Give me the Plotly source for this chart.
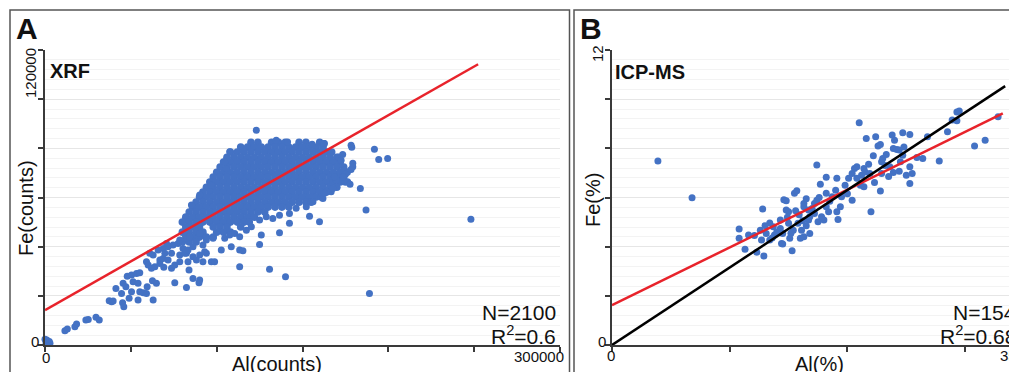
import plotly.graph_objects as go

# The page body adds an 8px margin, so the figure is 8px smaller than the window
OFF = 8
W, H = 1017 - OFF, 372 - OFF

# ---------------- Panel A : XRF (values in thousands of counts) ----------------
# dense core of the cloud, read row by row (Fe level, Al positions)
xrf_core_fe = [82.5, 80.5, 78.5, 76.4, 74.4, 72.4, 70.3, 68.3, 66.3, 64.2, 62.2,
               60.2, 58.1, 56.1, 54.1, 52.0, 50.0, 48.0, 45.9, 43.9, 41.9]
xrf_core_al = [
    [120, 124, 132, 136, 140, 148, 152, 160],
    [114, 118, 122, 126, 130, 134, 138, 142, 146, 150, 154, 158, 162],
    [108, 112, 116, 120, 124, 128, 132, 136, 140, 144, 148, 152, 156, 160, 164, 167],
    [106, 110, 114, 118, 122, 126, 130, 134, 138, 142, 146, 150, 154, 158, 162, 166, 170],
    [104, 108, 112, 116, 120, 124, 128, 132, 136, 140, 144, 148, 152, 156, 160, 164, 168, 172],
    [102, 106, 110, 114, 118, 122, 126, 130, 134, 138, 142, 146, 150, 154, 158, 162, 166, 170, 174],
    [100, 104, 108, 112, 116, 120, 124, 128, 132, 136, 140, 144, 148, 152, 156, 160, 164, 168, 172, 176],
    [98, 102, 106, 110, 114, 118, 122, 126, 130, 134, 138, 142, 146, 150, 154, 158, 162, 166, 170, 174],
    [96, 100, 104, 108, 112, 116, 120, 124, 128, 132, 136, 140, 144, 148, 152, 156, 160, 164, 168, 172, 175],
    [94, 98, 102, 106, 110, 114, 118, 122, 126, 130, 134, 138, 142, 146, 150, 154, 158, 162, 166, 170],
    [92, 96, 100, 104, 108, 112, 116, 120, 124, 128, 132, 136, 140, 144, 148, 152, 156, 160, 164],
    [90, 94, 98, 102, 106, 110, 114, 118, 122, 126, 130, 134, 138, 142, 146, 150, 154, 158, 161],
    [88, 92, 96, 100, 104, 108, 112, 116, 120, 124, 128, 132, 136, 140, 144, 148, 152, 155],
    [86, 90, 94, 98, 102, 106, 110, 114, 118, 122, 126, 130, 134, 138, 142],
    [84, 88, 92, 96, 100, 104, 108, 112, 116, 120, 124, 128],
    [82, 86, 90, 94, 98, 102, 106, 110, 114, 118, 122],
    [80, 84, 88, 92, 96, 100, 104, 108, 112, 116, 119],
    [82, 86, 90, 98, 102, 106, 114],
    [80, 84, 88, 92, 100, 104, 108],
    [82, 86, 90, 94, 98],
    [80, 84, 88],
]
# scattered points around the core
xrf_extra_al = [0.0, 1.3, 2.5, 0.6, 2.9, 1.0,
                11.6, 13.0, 17.4, 18.4, 23.8, 25.2, 29.7, 31.6,
                37.4, 38.8, 39.7, 45.2, 45.9, 41.3, 44.6, 45.5, 47.1, 49.0, 50.4, 54.2, 55.2, 57.2,
                47.9, 50.4, 53.3, 55.2, 51.3, 54.2, 59.5, 59.1, 62.6, 64.9, 63.0, 59.1, 60.1, 62.0,
                64.0, 66.9, 69.2, 73.7, 75.6, 75.6, 82.4, 86.2, 89.7, 83.9, 61.0, 63.0, 65.9, 68.8,
                71.7, 74.6, 77.5, 66.9, 68.8, 71.7, 69.8, 73.7, 78.5, 82.4, 86.2, 90.1, 94.0, 78.5,
                83.3, 88.2, 92.0, 70.8, 78.5, 84.3, 90.1, 80.4, 86.2, 92.0, 96.9, 98.8, 113.4, 130.8,
                140.1, 125.0, 126.0, 136.6, 154.1, 159.9, 142.4, 113.4, 115.3, 102.7, 108.5, 93.0,
                81.4, 83.3, 94.0, 97.9, 104.7, 107.6, 110.5, 113.4, 117.3, 120.2, 125.0, 128.9,
                132.7, 136.6, 142.4, 146.3, 152.2, 156.1, 161.9, 166.7, 90.1,
                123.1, 107.6, 104.7, 105.6, 90.1, 96.9, 85.3, 134.7, 141.3, 162.2,
                162.8, 178.3, 178.7, 191.9, 194.4, 199.6, 173.4, 171.1, 172.5, 179.3, 179.3, 178.3,
                174.4, 175.0, 173.8, 176.3, 177.7, 183.7, 187.0, 248.1, 189.0, 167.6, 163.8, 162.8,
                169.6, 168.6, 155.6, 162.4]
xrf_extra_fe = [2.3, 1.7, 1.4, 0.8, 0.7, 2.0,
                5.8, 6.5, 7.4, 8.5, 10.2, 10.4, 11.3, 10.2,
                18.0, 17.6, 17.9, 17.2, 15.6, 23.0, 21.0, 25.1, 23.7, 19.0, 21.7, 18.3, 21.7, 21.3,
                28.0, 28.5, 29.1, 29.4, 25.7, 25.1, 23.7, 21.0, 26.1, 25.1, 18.3, 33.9, 32.5, 31.2,
                31.8, 33.2, 31.6, 31.2, 32.5, 25.3, 23.4, 27.1, 25.3, 30.5, 37.3, 36.6, 38.6, 39.3,
                40.0, 40.7, 41.3, 34.6, 35.2, 34.6, 37.3, 37.3, 36.6, 37.3, 35.9, 36.6, 37.3, 33.9,
                33.9, 34.6, 33.9, 41.3, 42.7, 44.0, 45.4, 39.3, 40.0, 40.7, 33.9, 33.9, 31.8, 30.8,
                27.8, 40.9, 44.7, 45.7, 52.4, 50.1, 49.5, 38.6, 38.3, 38.6, 40.0, 37.9,
                37.3, 38.6, 42.7, 43.4, 43.4, 44.7, 45.4, 44.0, 46.7, 48.1, 50.8, 52.2,
                51.5, 52.8, 53.5, 55.6, 56.2, 58.3, 59.6, 62.3, 26.4,
                87.4, 78.6, 74.5, 71.8, 61.0, 65.0, 56.9, 83.3, 82.6, 82.0,
                82.0, 81.3, 80.4, 79.6, 75.5, 75.9, 77.5, 76.5, 75.2, 73.9, 72.5, 71.4,
                71.1, 69.5, 68.4, 66.4, 65.4, 63.7, 54.9, 51.2, 21.0, 63.7, 62.3, 61.7,
                67.1, 68.4, 81.7, 82.0]
xrf_fit_al = [0, 252300]
xrf_fit_fe = [14200, 114200]

# ---------------- Panel B : ICP-MS (%) ----------------
icp_al = [3.9, 6.8, 10.8, 10.8, 11.3, 11.6, 12.3, 12.6, 12.7, 12.8, 12.9, 13.1, 13.4, 13.4, 13.7,
          13.8, 14.3, 14.3, 14.4, 14.5, 14.5, 14.6, 14.8, 14.8, 15.0, 15.0, 15.1, 15.3, 15.4, 15.5,
          15.6, 15.7, 15.8, 16.0, 16.1, 16.3, 16.3, 16.3, 16.5, 16.7, 16.7, 16.8, 16.8, 17.2, 17.2,
          17.4, 17.4, 17.5, 17.7, 17.8, 18.0, 18.2, 18.2, 18.2, 18.4, 18.7, 19.1, 19.1, 19.2, 19.4,
          19.5, 20.1, 20.4, 20.4, 20.6, 20.8, 20.8, 21.0, 21.1, 21.2, 21.4, 21.4, 21.5, 21.6, 21.9,
          22.0, 22.3, 22.4, 22.6, 22.8, 22.8, 22.9, 22.9, 23.0, 23.3, 23.6, 23.8, 23.9, 23.9, 24.0,
          24.2, 24.4, 24.4, 24.5, 24.7, 24.7, 25.0, 25.3, 25.3, 25.3, 25.5, 25.9, 26.4, 26.8, 27.8,
          28.5, 28.9, 29.3, 29.3, 29.5, 30.8, 31.7, 32.8,
          13.0, 14.0, 15.2, 16.5, 17.0, 18.5, 19.8, 21.8, 23.2, 24.8, 15.9, 14.9, 13.6, 12.1, 17.6,
          19.0, 20.0, 22.2, 23.5, 16.2]
icp_fe = [7.48, 5.99, 4.72, 4.34, 3.89, 4.47, 3.77, 4.67, 4.27, 5.53, 3.62, 4.54, 4.96, 4.27, 4.81,
          4.47, 5.08, 4.74, 4.13, 4.54, 4.11, 5.91, 5.87, 5.49, 5.42, 4.95, 4.34, 3.83, 4.67, 6.17,
          5.46, 6.27, 4.95, 4.34, 4.67, 5.76, 5.62, 4.40, 5.95, 5.49, 5.08, 5.22, 4.54, 5.76, 5.35,
          7.32, 5.89, 5.01, 6.54, 5.22, 5.08, 6.82, 6.17, 5.62, 5.42, 6.03, 6.78, 5.42, 5.11, 5.62,
          6.03, 6.78, 6.98, 5.89, 7.18, 7.25, 6.78, 9.04, 6.50, 6.91, 7.18, 6.44, 7.04, 8.40, 6.98,
          5.42, 6.61, 8.47, 8.10, 8.16, 6.26, 7.45, 6.98, 7.59, 7.75, 7.25, 8.54, 7.99, 7.02, 8.33,
          7.95, 7.93, 7.07, 7.45, 8.63, 7.72, 6.91, 8.56, 7.25, 6.57, 6.98, 7.63, 7.59, 8.47, 7.48,
          8.67, 9.15, 9.12, 9.48, 9.52, 8.09, 8.33, 9.28,
          4.85, 4.60, 4.55, 4.85, 5.55, 5.85, 6.50, 7.35, 7.30, 8.05, 5.30, 5.20, 4.35, 4.45, 6.00,
          6.30, 6.15, 7.70, 6.85, 5.05]
icp_fit_al = [0, 33.2]
icp_fit_fe = [1.62, 9.42]
icp_ref_al = [0, 33.4]
icp_ref_fe = [0, 10.53]

# ---------------- assemble ----------------
core_al, core_fe = [], []
for fe, row in zip(xrf_core_fe, xrf_core_al):
    for al in row:
        core_al.append(al * 1000)
        core_fe.append(fe * 1000)
extra_al = [a * 1000 for a in xrf_extra_al]
extra_fe = [f * 1000 for f in xrf_extra_fe]

BLUE = "#4472C4"
RED = "#E8232B"
FONT = "Liberation Sans, Arial, sans-serif"

fig = go.Figure()
fig.add_trace(go.Scatter(x=core_al, y=core_fe, mode="markers", xaxis="x", yaxis="y",
                         marker=dict(color=BLUE, size=7.6, line=dict(width=0)),
                         cliponaxis=False, hoverinfo="skip", showlegend=False))
fig.add_trace(go.Scatter(x=extra_al, y=extra_fe, mode="markers", xaxis="x", yaxis="y",
                         marker=dict(color=BLUE, size=7, line=dict(width=0)),
                         cliponaxis=False, hoverinfo="skip", showlegend=False))
fig.add_trace(go.Scatter(x=xrf_fit_al, y=xrf_fit_fe, mode="lines", xaxis="x", yaxis="y",
                         line=dict(color=RED, width=2.5), showlegend=False))
fig.add_trace(go.Scatter(x=icp_al, y=icp_fe, mode="markers", xaxis="x2", yaxis="y2",
                         marker=dict(color=BLUE, size=7, line=dict(width=0)),
                         cliponaxis=False, hoverinfo="skip", showlegend=False))
fig.add_trace(go.Scatter(x=icp_fit_al, y=icp_fit_fe, mode="lines", xaxis="x2", yaxis="y2",
                         line=dict(color=RED, width=2.5), showlegend=False))
fig.add_trace(go.Scatter(x=icp_ref_al, y=icp_ref_fe, mode="lines", xaxis="x2", yaxis="y2",
                         line=dict(color="#000000", width=2.5), showlegend=False))

# screen pixel -> paper coordinate
def px(x):
    return (x - OFF) / W

def py(y):
    return 1 - (y - OFF) / H

AX = "#3a3a3a"
common_x = dict(showline=True, linecolor=AX, linewidth=1.5, ticks="outside", ticklen=5,
                tickcolor=AX, tickwidth=1.5, showticklabels=False, showgrid=False,
                zeroline=False, tickmode="linear", tick0=0)
common_y = dict(showline=True, linecolor=AX, linewidth=1.5, ticks="outside", ticklen=5,
                tickcolor=AX, tickwidth=1.5, showticklabels=False, showgrid=True,
                gridcolor="#e6e6e6", gridwidth=1, zeroline=False, tickmode="linear", tick0=0)

ydom = [py(345), py(50)]
fig.update_layout(
    width=W, height=H, margin=dict(l=0, r=0, t=0, b=0),
    paper_bgcolor="white", plot_bgcolor="white",
    xaxis=dict(domain=[px(45), px(560)], range=[0, 300000], dtick=50000, anchor="y", **common_x),
    yaxis=dict(domain=ydom, range=[0, 120000], dtick=20000, anchor="x",
               minor=dict(dtick=4000, showgrid=True, gridcolor="#f3f3f3", gridwidth=1), **common_y),
    xaxis2=dict(domain=[px(612), 1.0], range=[0, 35 * (1017 - 612) / (1024 - 612)], dtick=10,
                anchor="y2", **common_x),
    yaxis2=dict(domain=ydom, range=[0, 12], dtick=2, anchor="x2",
                minor=dict(dtick=0.4, showgrid=True, gridcolor="#f3f3f3", gridwidth=1), **common_y),
    font=dict(family=FONT, color="#111"),
)

# panel frames
for x0, x1 in [(10, 569.5), (574, 1040)]:
    fig.add_shape(type="rect", xref="paper", yref="paper", x0=px(x0), x1=px(x1),
                  y0=py(400), y1=py(10), line=dict(color="#555", width=1.5), layer="above")

def ann(x, y, text, size, xa="center", ya="middle", bold=False, angle=0):
    t = f"<b>{text}</b>" if bold else text
    fig.add_annotation(x=px(x), y=py(y), xref="paper", yref="paper", text=t, showarrow=False,
                       xanchor=xa, yanchor=ya, textangle=angle,
                       font=dict(size=size, family=FONT, color="#111"))

ann(14, 28, "A", 30, xa="left", bold=True)
ann(578, 28, "B", 30, xa="left", bold=True)
ann(48, 71, "XRF", 20, xa="left", bold=True)
ann(613, 71.5, "ICP-MS", 20, xa="left", bold=True)
ann(26, 208, "Fe(counts)", 20, angle=-90)
ann(593, 200, "Fe(%)", 20, angle=-90)
ann(276.5, 364, "Al(counts)", 20)
ann(819, 364, "Al(%)", 20)
ann(558, 312.5, "N=2100", 21, xa="right")
ann(558, 334.5, "R<sup>2</sup>=0.6", 21, xa="right")
ann(1018, 312.5, "N=154", 21, xa="right")
ann(1018, 334.5, "R<sup>2</sup>=0.68", 21, xa="right")
# axis end labels
ann(41, 341, "0", 15, xa="right")
ann(46, 357.5, "0", 15)
ann(566, 356.5, "300000", 15, xa="right")
ann(30, 73, "120000", 15, angle=-90)
ann(597, 54, "12", 15, angle=-90)
ann(608, 341, "0", 15, xa="right")
ann(611, 355, "0", 15)
ann(1019, 355, "35", 15, xa="right")

fig.write_html("out.html")
